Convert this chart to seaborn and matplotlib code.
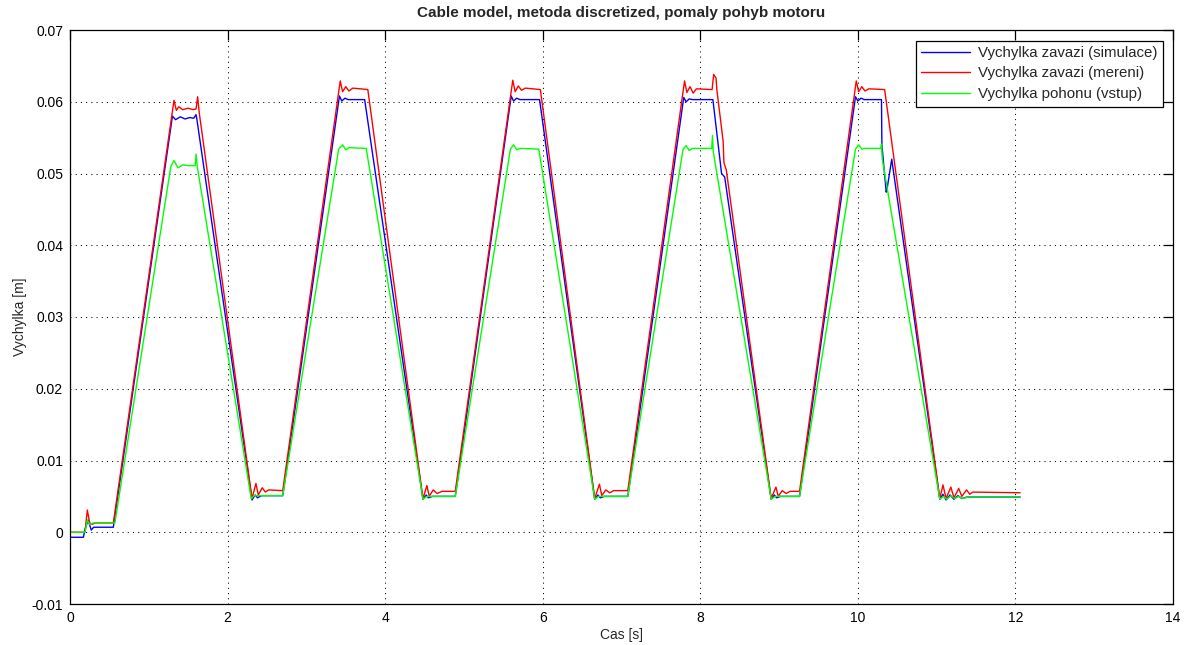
import matplotlib
matplotlib.use("Agg")
import matplotlib.pyplot as plt
import seaborn as sns
import numpy as np

# Simulated load displacement
t_sim = [0.00, 0.17, 0.19, 0.23, 0.27, 0.30, 0.55,
         1.30, 1.34, 1.40, 1.46, 1.52, 1.57, 1.60, 1.61,
         2.31, 2.35, 2.38, 2.43, 2.70,
         3.42, 3.45, 3.49, 3.53, 3.74,
         4.48, 4.52, 4.55, 4.60, 4.89,
         5.60, 5.63, 5.67, 5.71, 5.96,
         6.66, 6.70, 6.73, 6.78, 7.08,
         7.79, 7.82, 7.86, 7.90, 8.16, 8.27, 8.31,
         8.90, 8.94, 8.97, 9.02, 9.26,
         9.97, 10.00, 10.04, 10.08, 10.30, 10.305, 10.36, 10.37, 10.43,
         11.04, 11.08, 11.12, 11.17, 11.22, 11.27, 11.32, 11.38, 12.06]
y_sim = [-0.0007, -0.0007, 0.0004, 0.0017, 0.0003, 0.0007, 0.0007,
         0.0580, 0.0575, 0.0579, 0.0576, 0.0578, 0.0577, 0.0582, 0.0576,
         0.0045, 0.0052, 0.0048, 0.0051, 0.0051,
         0.0608, 0.0601, 0.0605, 0.0603, 0.0603,
         0.0046, 0.0052, 0.0048, 0.0050, 0.0050,
         0.0608, 0.0601, 0.0605, 0.0603, 0.0603,
         0.0046, 0.0052, 0.0048, 0.0050, 0.0050,
         0.0606, 0.0600, 0.0604, 0.0603, 0.0603, 0.0500, 0.0495,
         0.0046, 0.0052, 0.0048, 0.0050, 0.0050,
         0.0607, 0.0601, 0.0605, 0.0603, 0.0603, 0.0540, 0.0474, 0.0478, 0.0520,
         0.0046, 0.0053, 0.0045, 0.0052, 0.0046, 0.0051, 0.0047, 0.0049, 0.0049]

# Measured load displacement
t_meas = [0.00, 0.19, 0.22, 0.25, 0.28, 0.32, 0.55,
          1.32, 1.35, 1.38, 1.43, 1.50, 1.56, 1.60, 1.62, 1.64,
          2.31, 2.36, 2.39, 2.44, 2.48, 2.52, 2.70,
          3.43, 3.46, 3.50, 3.54, 3.59, 3.78,
          4.48, 4.53, 4.56, 4.61, 4.66, 4.72, 4.89,
          5.62, 5.65, 5.69, 5.73, 5.78, 5.97,
          6.66, 6.72, 6.75, 6.80, 6.85, 6.90, 7.08,
          7.80, 7.83, 7.87, 7.91, 7.95, 8.15, 8.17, 8.20, 8.21, 8.29, 8.30, 8.33,
          8.90, 8.96, 8.99, 9.04, 9.09, 9.14, 9.26,
          9.98, 10.01, 10.05, 10.09, 10.14, 10.34,
          11.04, 11.08, 11.12, 11.18, 11.22, 11.28, 11.32, 11.38, 11.42, 11.46, 12.06]
y_meas = [0.0000, 0.0000, 0.0031, 0.0013, 0.0011, 0.0013, 0.0013,
          0.0602, 0.0588, 0.0593, 0.0589, 0.0591, 0.0589, 0.0590, 0.0607, 0.0585,
          0.0047, 0.0068, 0.0052, 0.0062, 0.0056, 0.0059, 0.0058,
          0.0629, 0.0614, 0.0621, 0.0615, 0.0619, 0.0617,
          0.0047, 0.0065, 0.0050, 0.0059, 0.0054, 0.0057, 0.0057,
          0.0630, 0.0614, 0.0622, 0.0616, 0.0619, 0.0617,
          0.0047, 0.0067, 0.0051, 0.0059, 0.0055, 0.0058, 0.0058,
          0.0629, 0.0613, 0.0621, 0.0612, 0.0618, 0.0617, 0.0638, 0.0633, 0.0617, 0.0545, 0.0515, 0.0505,
          0.0047, 0.0063, 0.0050, 0.0058, 0.0054, 0.0057, 0.0057,
          0.0629, 0.0614, 0.0621, 0.0615, 0.0618, 0.0617,
          0.0047, 0.0066, 0.0047, 0.0063, 0.0048, 0.0061, 0.0050, 0.0059, 0.0053, 0.0056, 0.0055]

# Drive displacement (input)
t_drive = [0.00, 0.19, 0.22, 0.25, 0.30, 0.57,
           1.28, 1.32, 1.37, 1.43, 1.50, 1.59, 1.60, 1.615,
           2.30, 2.34, 2.70,
           3.41, 3.46, 3.50, 3.54, 3.76,
           4.48, 4.53, 4.89,
           5.59, 5.63, 5.67, 5.71, 5.95,
           6.66, 6.71, 7.08,
           7.78, 7.82, 7.86, 7.90, 8.145, 8.155, 8.165,
           8.90, 8.95, 9.26,
           9.97, 10.01, 10.05, 10.09, 10.29, 10.30, 10.31,
           11.04, 11.09, 11.13, 11.18, 11.23, 11.28, 11.33, 11.40, 12.06]
y_drive = [0.0000, 0.0000, 0.0017, 0.0011, 0.0013, 0.0013,
           0.0510, 0.0518, 0.0508, 0.0512, 0.0511, 0.0511, 0.0527, 0.0510,
           0.0047, 0.0051, 0.0051,
           0.0534, 0.0540, 0.0533, 0.0536, 0.0535,
           0.0046, 0.0050, 0.0050,
           0.0534, 0.0540, 0.0533, 0.0535, 0.0534,
           0.0046, 0.0050, 0.0050,
           0.0533, 0.0539, 0.0532, 0.0535, 0.0535, 0.0553, 0.0530,
           0.0046, 0.0050, 0.0050,
           0.0534, 0.0540, 0.0534, 0.0535, 0.0535, 0.0541, 0.0520,
           0.0046, 0.0050, 0.0046, 0.0051, 0.0047, 0.0050, 0.0047, 0.0049, 0.0049]

series_labels = ["Vychylka zavazi (simulace)", "Vychylka zavazi (mereni)", "Vychylka pohonu (vstup)"]
series_colors = ["#0000ff", "#ff0000", "#00ff00"]

x_ticks = [0, 2, 4, 6, 8, 10, 12, 14]
y_ticks = [-0.01, 0, 0.01, 0.02, 0.03, 0.04, 0.05, 0.06, 0.07]
y_tick_labels = ["-0.01", "0", "0.01", "0.02", "0.03", "0.04", "0.05", "0.06", "0.07"]

sns.set_style("white")
plt.rcParams["font.family"] = ["Liberation Sans", "DejaVu Sans"]
plt.rcParams["font.size"] = 10

fig = plt.figure(figsize=(11.84, 6.45), dpi=100)
ax = fig.add_axes([70 / 1184, 41 / 645, 1103 / 1184, 574 / 645])

for tx, ty, lab, col in zip([t_sim, t_meas, t_drive], [y_sim, y_meas, y_drive],
                            series_labels, series_colors):
    sns.lineplot(x=tx, y=ty, ax=ax, color=col, linewidth=1.0, label=lab,
                 sort=False, estimator=None)

ax.set_xlim(0, 14)
ax.set_ylim(-0.01, 0.07)
ax.set_xticks(x_ticks)
ax.set_xticklabels([str(v) for v in x_ticks])
ax.set_yticks(y_ticks)
ax.set_yticklabels(y_tick_labels)

ax.grid(True, color="black", linewidth=0.75, linestyle=(0, (1, 4)))
for sp in ax.spines.values():
    sp.set_color("black")
    sp.set_linewidth(0.9)
    sp.set_visible(True)
ax.tick_params(direction="in", length=7, width=0.9, top=True, right=True,
               labelsize=10, colors="black", pad=5)

ax.set_title("Cable model, metoda discretized, pomaly pohyb motoru",
             fontsize=11, fontweight="bold", pad=9)
ax.set_xlabel("Cas [s]", fontsize=10, labelpad=2)
ax.set_ylabel("Vychylka [m]", fontsize=10, labelpad=3)

leg = ax.legend(loc="upper right", fancybox=False, edgecolor="black", framealpha=1,
                fontsize=10.8, handlelength=3.3, borderaxespad=0.7,
                borderpad=0.35, labelspacing=0.45, handletextpad=0.5)
leg.get_frame().set_linewidth(0.9)

fig.savefig("out.png", dpi=100, facecolor="white")
